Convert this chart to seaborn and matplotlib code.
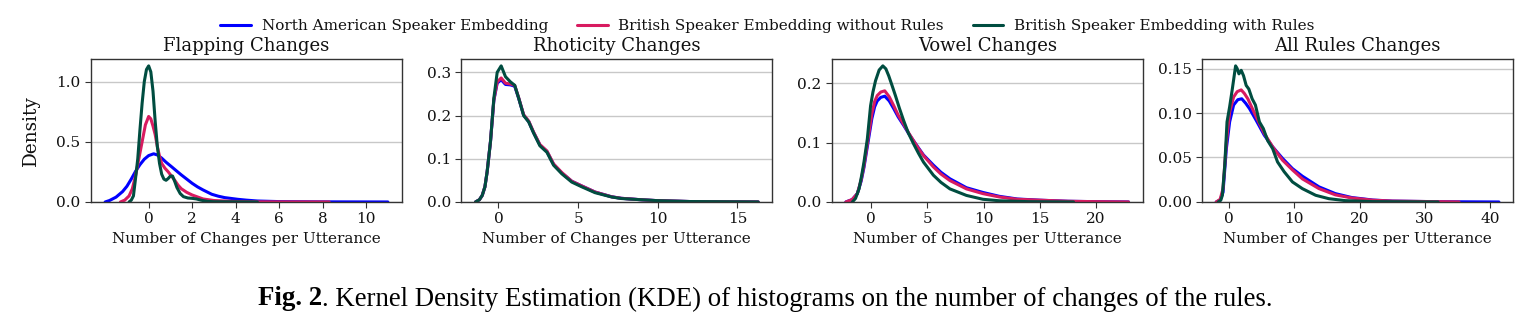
import numpy as np
import pandas as pd
import matplotlib
matplotlib.use("Agg")
import matplotlib.pyplot as plt
import seaborn as sns

# Series names and colours
series_names = [
    "North American Speaker Embedding",
    "British Speaker Embedding without Rules",
    "British Speaker Embedding with Rules",
]
series_colors = ["#0000FF", "#D81B60", "#004D40"]

panel_titles = ["Flapping Changes", "Rhoticity Changes", "Vowel Changes", "All Rules Changes"]
panel_xticks = [[0, 2, 4, 6, 8, 10], [0, 5, 10, 15], [0, 5, 10, 15, 20], [0, 10, 20, 30, 40]]

# KDE curves: (x, density) per series per panel
# --- Flapping
flap_na_x = [-2.0, -1.8, -1.5, -1.2, -1.0, -0.8, -0.6, -0.4, -0.2, 0.0, 0.23, 0.4, 0.6, 0.8, 1.07, 1.3, 1.5, 1.75,
             2.0, 2.25, 2.5, 2.9, 3.2, 3.5, 4.1, 4.5, 5.0, 6.0, 8.0, 11.0]
flap_na_y = [0.0, 0.012, 0.04, 0.086, 0.13, 0.19, 0.255, 0.31, 0.355, 0.385, 0.40, 0.39, 0.364, 0.33, 0.29, 0.255,
             0.225, 0.19, 0.155, 0.125, 0.10, 0.064, 0.048, 0.036, 0.022, 0.015, 0.008, 0.003, 0.001, 0.0]
flap_brno_x = [-1.3, -1.1, -0.9, -0.75, -0.6, -0.45, -0.3, -0.15, 0.0, 0.1, 0.2, 0.3, 0.4, 0.5, 0.6, 0.75, 0.9,
               1.05, 1.2, 1.35, 1.5, 1.75, 2.0, 2.5, 3.0, 4.0, 5.0, 8.3]
flap_brno_y = [0.0, 0.015, 0.05, 0.11, 0.22, 0.36, 0.50, 0.64, 0.71, 0.69, 0.63, 0.56, 0.46, 0.38, 0.32, 0.28, 0.25,
               0.215, 0.18, 0.14, 0.11, 0.08, 0.058, 0.025, 0.012, 0.004, 0.001, 0.0]
flap_brw_x = [-0.9, -0.8, -0.7, -0.6, -0.5, -0.4, -0.3, -0.2, -0.1, 0.0, 0.1, 0.2, 0.3, 0.4, 0.5, 0.6, 0.7, 0.8,
              0.9, 1.0, 1.1, 1.2, 1.3, 1.45, 1.6, 1.8, 2.0, 2.2, 2.4, 2.7, 3.0, 5.0]
flap_brw_y = [0.0, 0.015, 0.05, 0.2, 0.36, 0.6, 0.82, 1.0, 1.1, 1.13, 1.08, 0.92, 0.67, 0.46, 0.32, 0.23, 0.19, 0.18,
              0.195, 0.215, 0.215, 0.17, 0.12, 0.07, 0.044, 0.033, 0.03, 0.025, 0.015, 0.005, 0.002, 0.0]

# --- Rhoticity
rho_na_x = [-1.44, -1.2, -1.02, -0.85, -0.71, -0.5, -0.29, -0.08, 0.17, 0.44, 0.75, 1.02, 1.27, 1.58, 1.9, 2.2, 2.6,
            3.04, 3.46, 3.98, 4.6, 5.23, 6.06, 7.1, 7.7, 9.0, 10.0, 12.0, 16.3]
rho_na_y = [0.0, 0.005, 0.015, 0.035, 0.07, 0.14, 0.235, 0.275, 0.283, 0.272, 0.271, 0.268, 0.24, 0.201, 0.186, 0.161,
            0.132, 0.117, 0.087, 0.067, 0.048, 0.037, 0.023, 0.012, 0.0085, 0.005, 0.003, 0.001, 0.0]
rho_brno_x = rho_na_x
rho_brno_y = [0.0, 0.005, 0.015, 0.035, 0.07, 0.14, 0.236, 0.278, 0.287, 0.275, 0.273, 0.27, 0.241, 0.202, 0.187,
              0.162, 0.133, 0.118, 0.088, 0.068, 0.048, 0.037, 0.023, 0.012, 0.0085, 0.005, 0.003, 0.001, 0.0]
rho_brw_x = rho_na_x
rho_brw_y = [0.0, 0.005, 0.015, 0.035, 0.07, 0.14, 0.24, 0.30, 0.315, 0.29, 0.278, 0.27, 0.24, 0.20, 0.185, 0.16,
             0.13, 0.115, 0.085, 0.065, 0.046, 0.035, 0.0215, 0.0115, 0.008, 0.005, 0.003, 0.001, 0.0]

# --- Vowel
vow_na_x = [-2.26, -1.7, -1.24, -0.9, -0.65, -0.35, 0.05, 0.3, 0.53, 0.85, 1.2, 1.6, 2.0, 2.4, 2.88, 3.3, 3.76, 4.2,
            4.65, 5.53, 6.2, 7.0, 8.47, 9.94, 11.4, 13.0, 15.0, 17.5, 20.0, 22.9]
vow_na_y = [0.0, 0.004, 0.014, 0.035, 0.058, 0.093, 0.14, 0.16, 0.17, 0.176, 0.178, 0.17, 0.157, 0.143, 0.129, 0.116,
            0.103, 0.091, 0.079, 0.062, 0.05, 0.039, 0.024, 0.016, 0.0095, 0.005, 0.003, 0.0012, 0.0005, 0.0]
vow_brno_x = vow_na_x
vow_brno_y = [0.0, 0.004, 0.014, 0.037, 0.061, 0.098, 0.148, 0.169, 0.179, 0.185, 0.187, 0.177, 0.162, 0.146, 0.131,
              0.117, 0.103, 0.09, 0.078, 0.059, 0.047, 0.036, 0.022, 0.014, 0.0084, 0.0045, 0.003, 0.0012, 0.0005, 0.0]
vow_brw_x = [-1.68, -1.4, -1.09, -0.85, -0.65, -0.35, -0.06, 0.15, 0.38, 0.7, 1.03, 1.3, 1.56, 1.85, 2.15, 2.5, 2.88,
             3.3, 3.76, 4.2, 4.65, 5.53, 6.2, 7.0, 8.47, 9.94, 11.4, 14.0, 18.0]
vow_brw_y = [0.0, 0.006, 0.022, 0.045, 0.067, 0.106, 0.162, 0.185, 0.204, 0.222, 0.229, 0.224, 0.212, 0.196, 0.179,
             0.158, 0.137, 0.116, 0.098, 0.082, 0.067, 0.045, 0.033, 0.022, 0.011, 0.0045, 0.002, 0.0005, 0.0]

# --- All rules
all_na_x = [-1.9, -1.3, -0.86, -0.35, 0.15, 0.76, 1.4, 2.0, 2.6, 3.18, 4.19, 5.45, 6.72, 8.23, 9.75, 11.26, 13.8,
            16.3, 18.8, 22.0, 25.0, 32.0, 41.3]
all_na_y = [0.0, 0.002, 0.011, 0.06, 0.09, 0.109, 0.115, 0.116, 0.111, 0.105, 0.092, 0.075, 0.062, 0.049, 0.0375,
            0.029, 0.017, 0.0094, 0.005, 0.0022, 0.001, 0.0003, 0.0]
all_brno_x = [-1.9, -1.3, -0.86, -0.35, 0.15, 0.76, 1.3, 1.92, 2.4, 2.93, 4.19, 5.45, 6.72, 8.23, 9.75, 11.26, 13.8,
              16.3, 18.8, 22.0, 25.0, 35.2]
all_brno_y = [0.0, 0.003, 0.015, 0.067, 0.101, 0.118, 0.124, 0.126, 0.122, 0.116, 0.096, 0.077, 0.062, 0.047, 0.036,
              0.026, 0.015, 0.008, 0.0045, 0.002, 0.001, 0.0]
all_brw_x = [-1.6, -1.2, -0.96, -0.6, -0.25, 0.15, 0.56, 1.06, 1.3, 1.57, 1.92, 2.27, 2.68, 3.08, 3.59, 4.09, 4.7,
             5.3, 5.96, 6.72, 7.47, 8.48, 9.75, 11.26, 13.3, 15.3, 17.8, 22.0, 32.0]
all_brw_y = [0.0, 0.002, 0.0075, 0.041, 0.09, 0.107, 0.127, 0.153, 0.15, 0.144, 0.148, 0.142, 0.131, 0.127, 0.116,
             0.109, 0.09, 0.0825, 0.069, 0.06, 0.045, 0.034, 0.0225, 0.015, 0.0075, 0.0037, 0.0015, 0.0004, 0.0]

panels = [
    [(flap_na_x, flap_na_y), (flap_brno_x, flap_brno_y), (flap_brw_x, flap_brw_y)],
    [(rho_na_x, rho_na_y), (rho_brno_x, rho_brno_y), (rho_brw_x, rho_brw_y)],
    [(vow_na_x, vow_na_y), (vow_brno_x, vow_brno_y), (vow_brw_x, vow_brw_y)],
    [(all_na_x, all_na_y), (all_brno_x, all_brno_y), (all_brw_x, all_brw_y)],
]

sns.set_style("ticks")
plt.rcParams["font.family"] = ["DejaVu Serif"]
plt.rcParams["text.color"] = "#111111"
plt.rcParams["xtick.labelcolor"] = "#111111"
plt.rcParams["ytick.labelcolor"] = "#111111"
plt.rcParams["axes.labelcolor"] = "#111111"

fig, axes = plt.subplots(1, 4, figsize=(15.35, 3.3), dpi=100)
fig.subplots_adjust(left=0.0593, right=0.9857, bottom=0.388, top=0.821, wspace=0.191)

palette = dict(zip(series_names, series_colors))

for ax, title, curves, xt in zip(axes, panel_titles, panels, panel_xticks):
    frames = []
    for name, (xs, ys) in zip(series_names, curves):
        frames.append(pd.DataFrame({"x": xs, "density": ys, "series": name}))
    df = pd.concat(frames, ignore_index=True)
    sns.lineplot(data=df, x="x", y="density", hue="series", hue_order=series_names,
                 palette=palette, estimator=None, sort=True, linewidth=2.2,
                 legend=(ax is axes[0]), ax=ax)
    ymax = df["density"].max()
    ax.set_ylim(0, ymax * 1.05)
    ax.set_xticks(xt)
    ax.set_title(title, fontsize=13, pad=6)
    ax.set_xlabel("Number of Changes per Utterance", fontsize=11)
    if ax is axes[0]:
        ax.set_ylabel("Density", fontsize=13.3, labelpad=12)
    else:
        ax.set_ylabel("")
    ax.tick_params(labelsize=11, length=4, color="#333333")
    ax.yaxis.grid(True, color="#c8c8c8", linewidth=1.0)
    ax.set_axisbelow(True)
    for sp in ax.spines.values():
        sp.set_color("#333333")
        sp.set_linewidth(1.0)

handles, labels = axes[0].get_legend_handles_labels()
axes[0].get_legend().remove()
fig.legend(handles, labels, loc="center", bbox_to_anchor=(0.5, 0.921), ncol=3,
           frameon=False, fontsize=11, handlelength=2.0, handletextpad=0.7, columnspacing=1.9)

# caption: bold "Fig. 2" followed by regular text
cap_y = 0.094
t1 = fig.text(258 / 1535, cap_y, "Fig. 2", fontsize=19.4, fontweight="bold", color="black",
              family=["Liberation Serif"], ha="left", va="center")
fig.canvas.draw()
bb = t1.get_window_extent(renderer=fig.canvas.get_renderer())
x_next = bb.x1 / fig.bbox.width
fig.text(x_next, cap_y, ". Kernel Density Estimation (KDE) of histograms on the number of changes of the rules.",
         fontsize=19.4, color="black", family=["Liberation Serif"], ha="left", va="center")

fig.savefig("out.png", dpi=100)
